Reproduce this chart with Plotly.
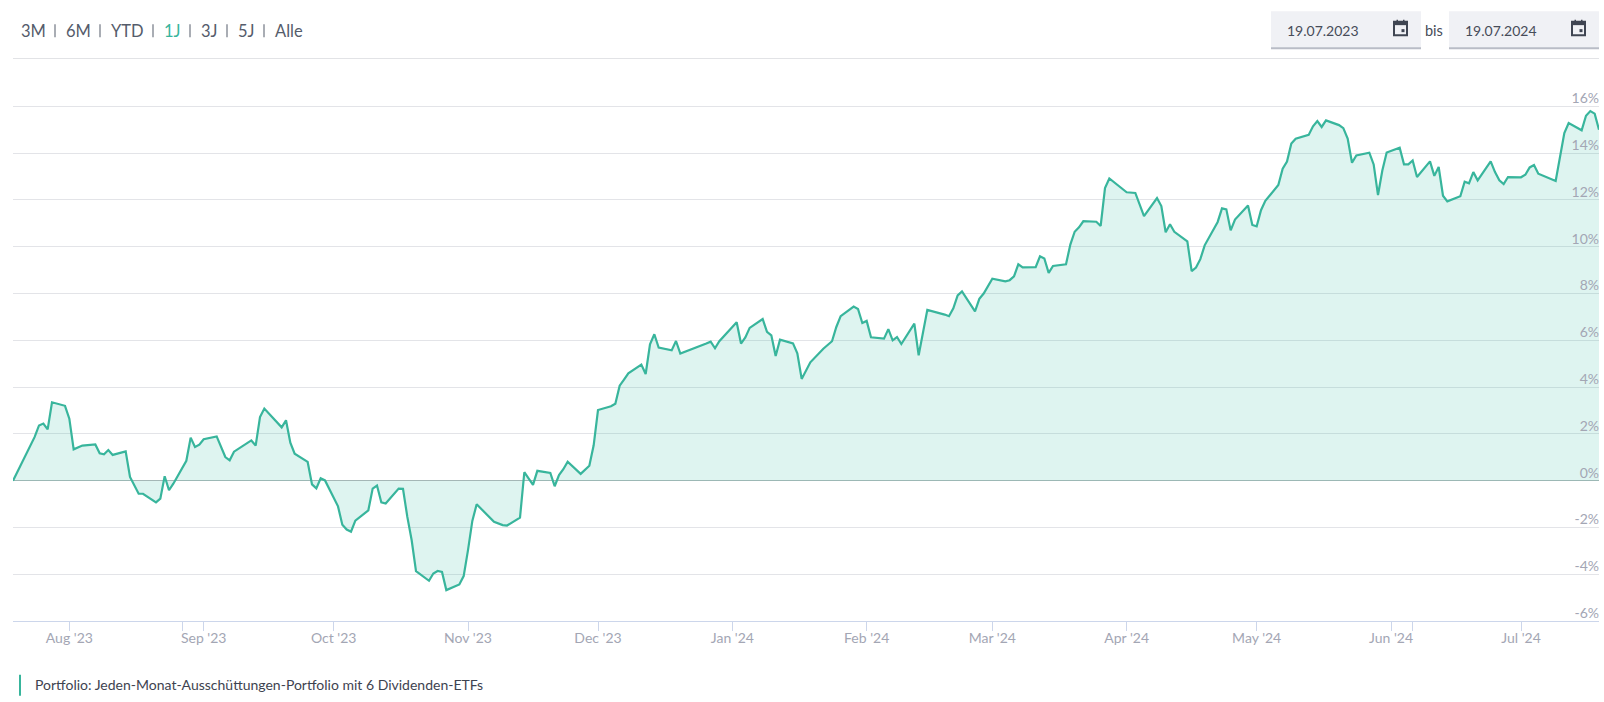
import pandas as pd
import plotly.graph_objects as go

START_DATE = "2023-07-19"
days_since_start = [
    0, 5, 6, 7, 8, 9, 12, 13, 14, 16, 19, 20, 21, 22, 23, 26, 27, 29, 30, 33, 34, 35, 36, 37, 40,
    41, 42, 43, 44, 47, 49, 50, 51, 55, 56, 57, 58, 62, 63, 64, 65, 68, 69, 70, 71, 72, 75, 76, 77, 78,
    79, 82, 83, 84, 85, 86, 89, 90, 91, 92, 93, 96, 97, 98, 99, 100, 103, 104, 105, 106, 107, 111, 113, 114, 117,
    118, 120, 121, 124, 125, 126, 127, 128, 131, 133, 134, 135, 138, 139, 140, 141, 142, 145, 146, 147, 148, 149, 152, 153, 154,
    160, 161, 162, 163, 167, 168, 169, 170, 173, 174, 175, 176, 177, 180, 181, 182, 184, 187, 189, 190, 191, 194, 195, 196, 197,
    198, 201, 202, 203, 204, 205, 208, 209, 211, 215, 216, 217, 218, 219, 222, 223, 224, 226, 229, 230, 231, 232, 233, 236, 237,
    238, 239, 240, 243, 244, 245, 246, 247, 250, 251, 252, 253, 257, 259, 261, 264, 265, 266, 267, 268, 271, 272, 273, 274, 275,
    278, 279, 280, 281, 282, 285, 286, 287, 288, 289, 292, 293, 294, 295, 296, 299, 300, 301, 302, 303, 306, 307, 308, 309, 310,
    313, 314, 315, 316, 317, 320, 321, 322, 323, 324, 327, 328, 329, 330, 331, 334, 335, 336, 337, 338, 341, 342, 343, 344, 345,
    348, 349, 350, 351, 352, 356, 357, 358, 359, 362, 363, 364, 365, 366,
]
return_pct = [
    0, 1.87, 2.36, 2.44, 2.19, 3.35, 3.2, 2.65, 1.34, 1.5, 1.55, 1.17, 1.13, 1.31, 1.1, 1.25, 0.16, -0.56, -0.56, -0.93, -0.77, 0.19, -0.41, -0.13, 0.85,
    1.84, 1.44, 1.54, 1.77, 1.89, 1.01, 0.87, 1.24, 1.72, 1.5, 2.72, 3.08, 2.28, 2.58, 1.62, 1.15, 0.8, -0.16, -0.33, 0.1, 0.01, -1.1, -1.88, -2.09, -2.18,
    -1.71, -1.27, -0.34, -0.21, -0.93, -0.98, -0.34, -0.35, -1.55, -2.55, -3.87, -4.28, -3.97, -3.86, -3.9, -4.68, -4.44, -4.08, -2.97, -1.72, -1.01, -1.76, -1.9, -1.92, -1.58,
    0.36, -0.18, 0.42, 0.33, -0.24, 0.24, 0.49, 0.81, 0.29, 0.64, 1.51, 3.02, 3.18, 3.29, 4.06, 4.32, 4.59, 4.96, 4.56, 5.83, 6.26, 5.69, 5.57, 5.97, 5.43,
    5.86, 5.94, 5.66, 5.96, 6.77, 5.86, 6.12, 6.53, 6.91, 6.36, 6.21, 5.33, 6.03, 5.87, 5.44, 4.35, 5.06, 5.64, 5.96, 6.57, 7.03, 7.44, 7.34, 6.74, 6.83,
    6.13, 6.07, 6.48, 6.0, 6.14, 5.84, 6.71, 5.36, 7.3, 7.1, 7.03, 7.37, 7.92, 8.09, 7.24, 7.77, 8.0, 8.63, 8.52, 8.57, 8.73, 9.25, 9.12, 9.13, 9.59,
    9.5, 8.88, 9.18, 9.25, 10.09, 10.64, 10.83, 11.09, 11.07, 10.89, 12.51, 12.92, 12.33, 12.3, 11.31, 12.08, 11.74, 10.62, 10.96, 10.64, 10.23, 8.96, 9.11, 9.47, 10.06,
    11.06, 11.64, 11.6, 10.7, 11.16, 11.76, 10.93, 10.87, 11.56, 11.96, 12.64, 13.34, 13.64, 14.41, 14.62, 14.78, 15.15, 15.37, 15.12, 15.4, 15.2, 15.07, 14.62, 13.59, 13.9,
    14.02, 13.52, 12.21, 13.26, 14.03, 14.23, 13.52, 13.52, 13.69, 12.98, 13.65, 13.03, 13.41, 12.18, 11.94, 12.16, 12.78, 12.71, 13.19, 12.84, 13.65, 13.19, 12.84, 12.68, 12.98,
    12.97, 13.08, 13.39, 13.49, 13.12, 12.81, 13.83, 14.86, 15.29, 14.98, 15.6, 15.8, 15.69, 15.0,
]

# The axis carries two unlabelled ticks next to the monthly ones
month_ticks = ["2023-08-01", "2023-08-27", "2023-09-01", "2023-10-01", "2023-11-01", "2023-12-01", "2024-01-01",
               "2024-02-01", "2024-03-01", "2024-04-01", "2024-05-01", "2024-06-01", "2024-06-06", "2024-07-01"]
month_labels = ["Aug '23", "", "Sep '23", "Oct '23", "Nov '23", "Dec '23", "Jan '24",
                "Feb '24", "Mar '24", "Apr '24", "May '24", "Jun '24", "", "Jul '24"]
pct_ticks = [-6, -4, -2, 0, 2, 4, 6, 8, 10, 12, 14, 16]
pct_labels = [f"{v}%" for v in pct_ticks]

range_buttons = ["3M", "6M", "YTD", "1J", "3J", "5J", "Alle"]
range_button_x = [21, 66, 111, 164, 201, 238, 275]
range_divider_x = [55, 100, 153, 190, 227, 264]
date_from = "19.07.2023"
date_to = "19.07.2024"
legend_text = "Portfolio: Jeden-Monat-Ausschüttungen-Portfolio mit 6 Dividenden-ETFs"

W, H = 1604, 702
# The value axis runs one unit past its top label so the 16% rule and label stay drawn
L, R, T, B = 13, 1599, 82.9, 621.3
FONT = "Lato"
TEAL = "#38b59c"
SLATE = "#555c6b"
MUTED = "#a3a6b4"

dates = pd.Timestamp(START_DATE) + pd.to_timedelta(days_since_start, unit="D")

fig = go.Figure(
    go.Scatter(
        x=dates, y=return_pct, mode="lines",
        line=dict(color=TEAL, width=2.2, shape="linear"),
        fill="tozeroy", fillcolor="rgba(48,184,160,0.16)",
        hoverinfo="skip",
    )
)


# Paper coordinates span the plot area, so page pixels are converted relative to it
def px(x):
    return (x - L) / (R - L)


def py(y):
    return (B - y) / (B - T)


shapes = []
annotations = []


def label(x, y, text, size, color, anchor="left"):
    annotations.append(dict(
        xref="paper", yref="paper", x=px(x), y=py(y), text=text, showarrow=False,
        xanchor=anchor, yanchor="middle", borderpad=0, borderwidth=0,
        font=dict(family=FONT, size=size, color=color),
    ))


def rect(x0, y0, x1, y1, fill, width=0, line=None, layer="above"):
    shapes.append(dict(
        type="rect", xref="paper", yref="paper", x0=px(x0), x1=px(x1), y0=py(y0), y1=py(y1),
        fillcolor=fill, line=dict(width=width, color=line or fill), layer=layer,
    ))


def calendar_icon(x, y):
    # Small calendar glyph: outlined page, filled header, binder pegs and day marker
    rect(x, y + 1.5, x + 13, y + 15, "#f0f1f5", 2, "#3f4552")
    rect(x, y + 1.5, x + 13, y + 5, "#3f4552")
    rect(x + 2.5, y - 0.5, x + 4, y + 2, "#3f4552")
    rect(x + 9, y - 0.5, x + 10.5, y + 2, "#3f4552")
    rect(x + 7.5, y + 9, x + 10.5, y + 12, "#3f4552")


# Range selector along the top edge
for name, x in zip(range_buttons, range_button_x):
    label(x, 31, name, 16.5, TEAL if name == "1J" else SLATE)
for x in range_divider_x:
    rect(x - 0.5, 24, x + 0.5, 37, SLATE)

# Date range inputs
for x0, x1, text, icon_x in [(1271, 1421, date_from, 1394), (1449, 1599, date_to, 1572)]:
    rect(x0, 11, x1, 48.5, "#f0f1f5")
    rect(x0, 47, x1, 49, "#b9bcc6")
    label(x0 + 15.5, 30, text, 14, "#474c59")
    calendar_icon(icon_x, 20)
label(1425, 30.5, "bis", 14.5, "#474c59")

# Rule below the controls
rect(L, 57.8, R, 58.8, "#e2e3e6")

# Legend entry under the chart
rect(19, 675, 21, 696, TEAL)
label(35, 685, legend_text, 14, "#3e4350")

fig.update_layout(
    width=W, height=H, autosize=False,
    margin=dict(l=L, r=W - R, t=T, b=H - B, pad=0),
    paper_bgcolor="#ffffff", plot_bgcolor="#ffffff",
    showlegend=False,
    font=dict(family=FONT),
    shapes=shapes,
    annotations=annotations,
    xaxis=dict(
        range=[dates[0], dates[-1]],
        tickmode="array", tickvals=month_ticks, ticktext=month_labels,
        ticks="outside", ticklen=9, tickcolor="#ccd6eb", tickwidth=1,
        ticklabelstandoff=-5,
        tickfont=dict(family=FONT, size=14, color=MUTED),
        showgrid=False, zeroline=False,
        showline=True, linecolor="#ccd6eb", linewidth=1,
    ),
    yaxis=dict(
        range=[-6, 17], side="right",
        tickmode="array", tickvals=pct_ticks, ticktext=pct_labels,
        ticks="", ticklabelposition="inside", ticklabelshift=-8, ticklabelstandoff=-3,
        tickfont=dict(family=FONT, size=14, color=MUTED),
        showgrid=True, gridcolor="#e3e4e8", gridwidth=1,
        zeroline=True, zerolinecolor="#aab8b8", zerolinewidth=1,
        showline=False,
    ),
)

fig.write_html("out.html", config=dict(displayModeBar=False))
